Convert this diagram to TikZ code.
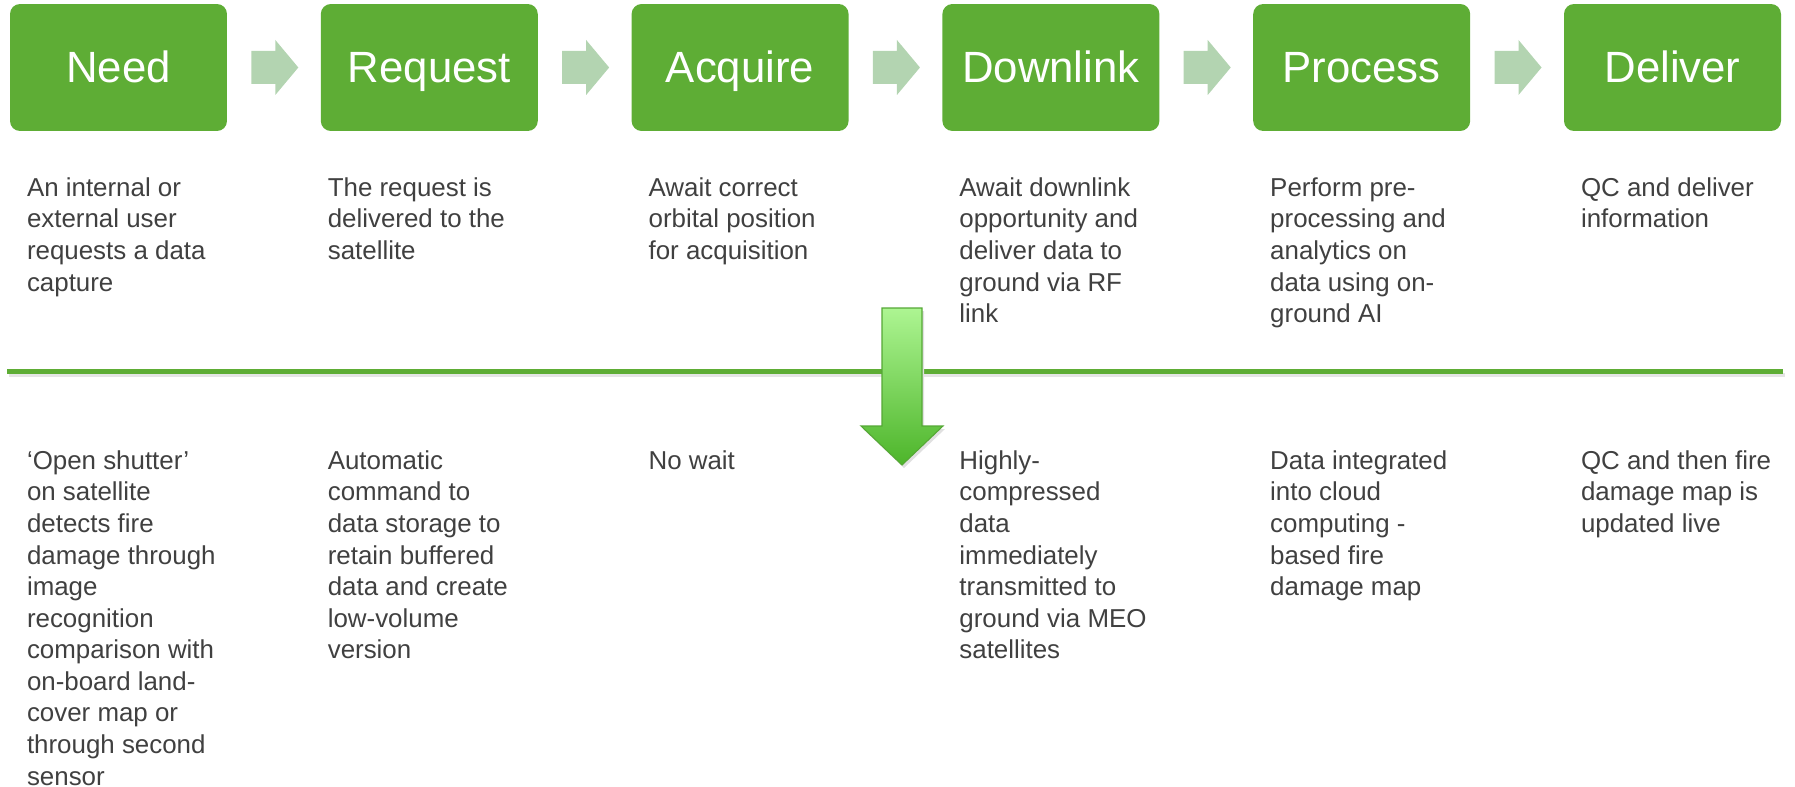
\documentclass[tikz,border=0pt]{standalone}
\usepackage{fontspec}
\setmainfont{Liberation Sans}
\usetikzlibrary{calc}
\definecolor{boxgreen}{HTML}{5EAD35}
\definecolor{arrowgreen}{HTML}{B3D4B1}
\definecolor{txtgray}{HTML}{404040}
\definecolor{biglight}{HTML}{ADF592}
\definecolor{bigdark}{HTML}{4DB52A}
\definecolor{bigedge}{HTML}{55A835}
\newcommand{\lns}[1]{\begin{tabular}[t]{@{}l@{}}#1\end{tabular}}
\begin{document}
\begin{tikzpicture}[x=0.02cm,y=-0.02cm,
  stagebox/.style={fill=boxgreen, rounded corners=0.2cm, minimum width=4.34cm,
    minimum height=2.54cm, text=white, inner sep=0pt,
    font=\fontsize{24.9}{29}\selectfont, text height=22.53pt, text depth=5.28pt},
  desc/.style={anchor=base west, inner sep=0pt, text=txtgray,
    font=\fontsize{14.74}{17.97}\selectfont},
  flowarrow/.style={fill=arrowgreen}]
\useasboundingbox (0,0) rectangle (1795,787);

% separator line
\coordinate (lineL) at (7,371.5);
\coordinate (lineR) at (1783,371.5);
\draw[black!10, line width=2pt] ($(lineL)+(2,3.5)$) -- ($(lineR)+(2,3.5)$);
\draw[boxgreen, line width=2.83pt] (lineL) -- (lineR);

% stage boxes
\node[stagebox] (need)     at (118.5,67.5)  {Need};
\node[stagebox] (request)  at (429.3,67.5)  {Request};
\node[stagebox] (acquire)  at (740.1,67.5)  {Acquire};
\node[stagebox] (downlink) at (1050.9,67.5) {Downlink};
\node[stagebox] (process)  at (1361.7,67.5) {Process};
\node[stagebox] (deliver)  at (1672.5,67.5) {Deliver};

% flow arrows between boxes
\foreach \a in {need,request,acquire,downlink,process}{
  \fill[flowarrow] ($(\a.east)+(24,-16.5)$) -- ++(24,0) -- ++(0,-11)
    -- ++(23,27.5) -- ++(-23,27.5) -- ++(0,-11) -- ++(-24,0) -- cycle;
}

% upper descriptions
\node[desc] (needT) at ($(need.south west)+(17,65)$)
  {\lns{An internal or\\external user\\requests a data\\capture}};
\node[desc] (requestT) at ($(request.south west)+(7,65)$)
  {\lns{The request is\\delivered to the\\satellite}};
\node[desc] (acquireT) at ($(acquire.south west)+(17,65)$)
  {\lns{Await correct\\orbital position\\for acquisition}};
\node[desc] (downlinkT) at ($(downlink.south west)+(17,65)$)
  {\lns{Await downlink\\opportunity and\\deliver data to\\ground via RF\\link}};
\node[desc] (processT) at ($(process.south west)+(17,65)$)
  {\lns{Perform pre-\\processing and\\analytics on\\data using on-\\ground AI}};
\node[desc] (deliverT) at ($(deliver.south west)+(17,65)$)
  {\lns{QC and deliver\\information}};

% lower descriptions
\node[desc] (needB) at ($(need.south west)+(17,338)$)
  {\lns{‘Open shutter’\\on satellite\\detects fire\\damage through\\image\\recognition\\comparison with\\on-board land-\\cover map or\\through second\\sensor}};
\node[desc] (requestB) at ($(request.south west)+(7,338)$)
  {\lns{Automatic\\command to\\data storage to\\retain buffered\\data and create\\low-volume\\version}};
\node[desc] (acquireB) at ($(acquire.south west)+(17,338)$)
  {\lns{No wait}};
\node[desc] (downlinkB) at ($(downlink.south west)+(17,338)$)
  {\lns{Highly-\\compressed\\data\\immediately\\transmitted to\\ground via MEO\\satellites}};
\node[desc] (processB) at ($(process.south west)+(17,338)$)
  {\lns{Data integrated\\into cloud\\computing -\\based fire\\damage map}};
\node[desc] (deliverB) at ($(deliver.south west)+(17,338)$)
  {\lns{QC and then fire\\damage map is\\updated live}};

% big down arrow
\fill[black!12] (884,311) -- (924,311) -- (924,429) -- (945,429) -- (904,468)
  -- (863,429) -- (884,429) -- cycle;
\shade[top color=biglight, bottom color=bigdark, draw=bigedge, line width=0.6pt]
  (882,308) -- (922,308) -- (922,426) -- (943,426) -- (902,465)
  -- (861,426) -- (882,426) -- cycle;
\end{tikzpicture}
\end{document}
